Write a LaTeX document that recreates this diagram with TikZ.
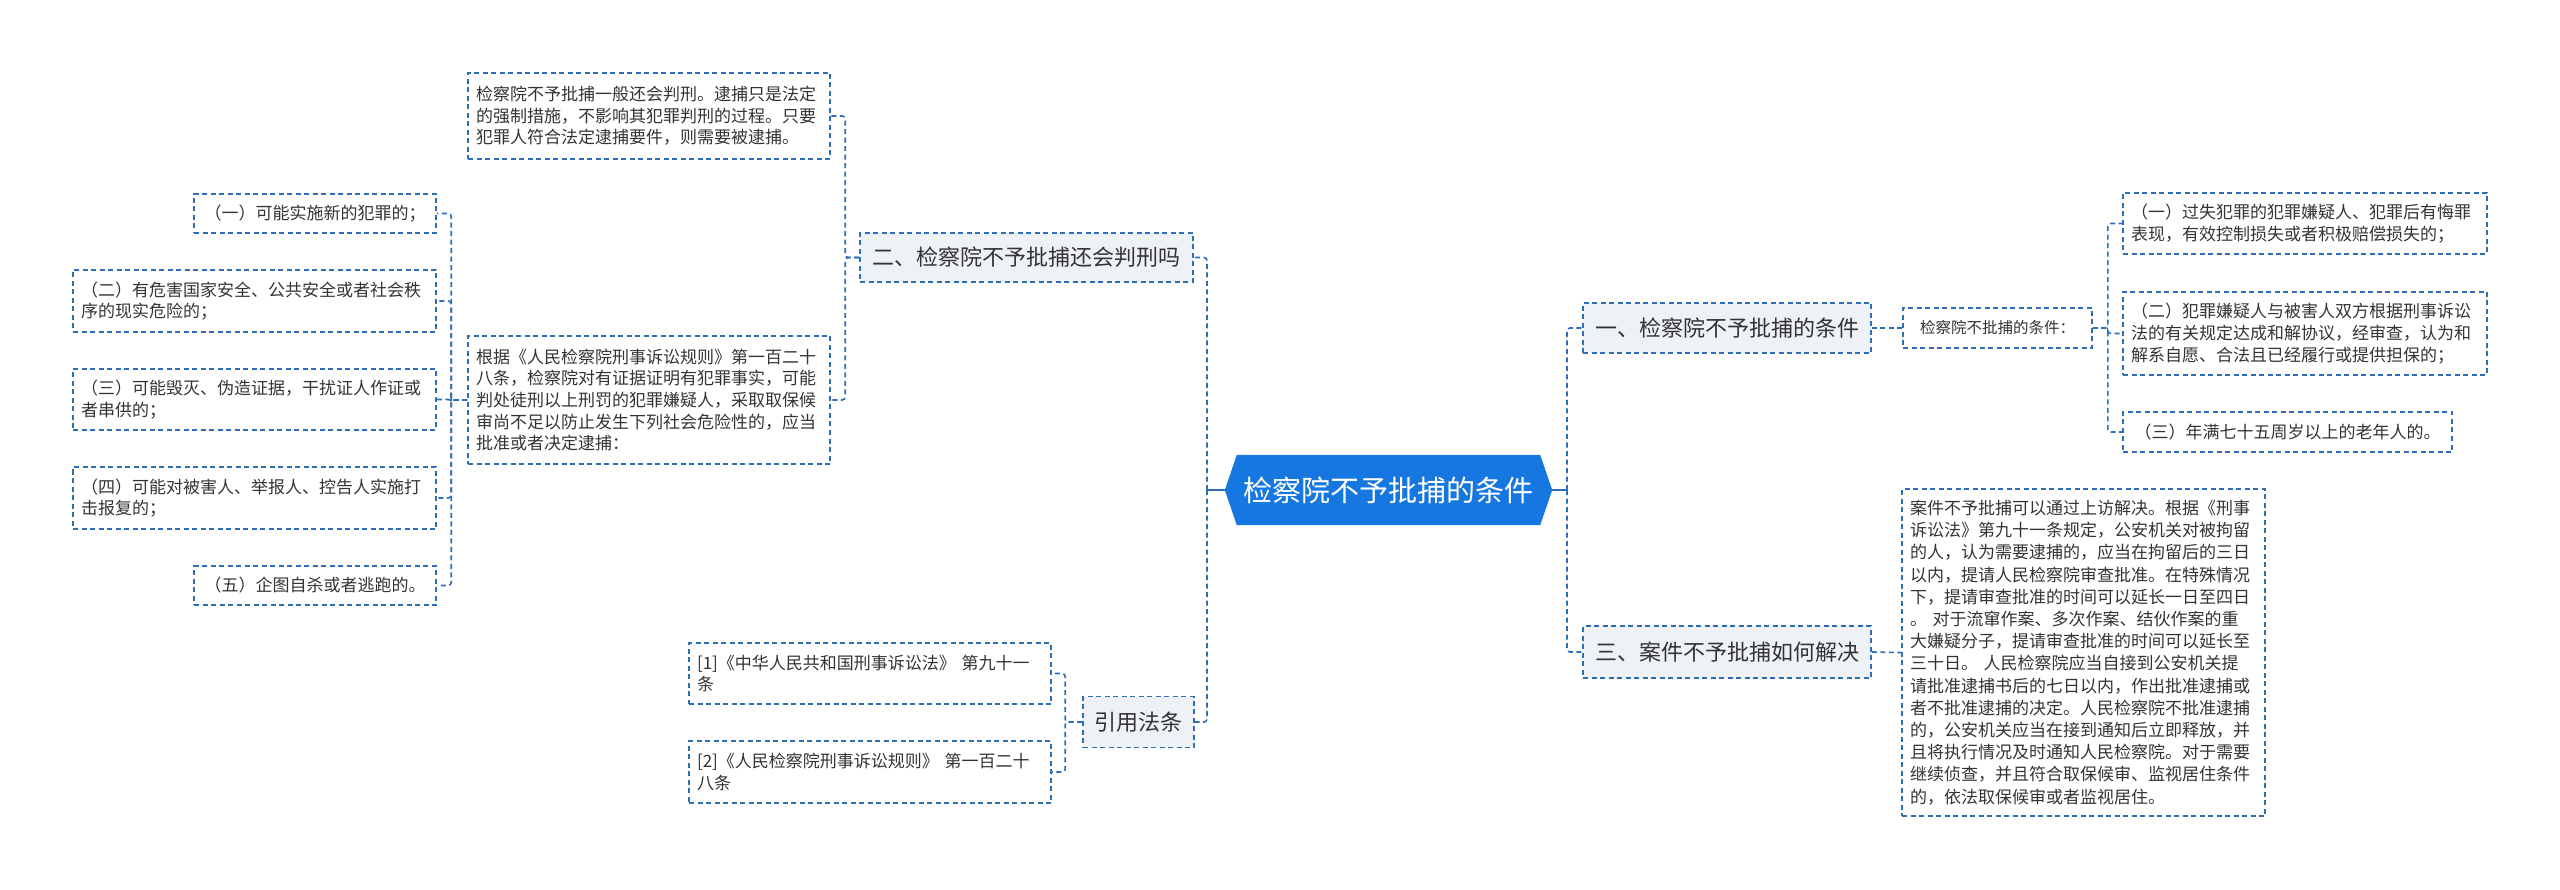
\documentclass[tikz,border=0pt]{standalone}
\usepackage{fontspec}
\setmainfont{Noto Sans CJK SC}
\usetikzlibrary{backgrounds}
\definecolor{rootblue}{HTML}{1677E0}
\definecolor{bordc}{HTML}{2E6FB7}
\definecolor{brfill}{HTML}{EEF1F6}
\definecolor{txt}{HTML}{333333}
\tikzset{
  box/.style={draw=bordc, dash pattern=on 5pt off 3.5pt, line width=1.6pt, text=txt, inner sep=0pt, font=\fontsize{17}{21.7}\selectfont},
  leaf/.style={box, align=left, inner xsep=8pt},
  cleaf/.style={box, align=center},
  branch/.style={box, fill=brfill, align=center, font=\fontsize{22}{26}\selectfont},
  conn/.style={draw=bordc, line width=1.6pt, dash pattern=on 5pt off 3.5pt, rounded corners=3pt},
  solidc/.style={draw=bordc, line width=1.8pt}
}
\begin{document}
\begin{tikzpicture}[x=1pt,y=-1pt]
\useasboundingbox (0,0) rectangle (2560,890);

% root
\node[font=\fontsize{29}{34}\selectfont, text=white, minimum width=327pt, minimum height=70pt, inner sep=0pt] (root) at (1388.5,490) {检察院不予批捕的条件};
\begin{pgfonlayer}{background}
\fill[rootblue] (root.west) -- ([xshift=12pt]root.north west) -- ([xshift=-12pt]root.north east) -- (root.east) -- ([xshift=-12pt]root.south east) -- ([xshift=12pt]root.south west) -- cycle;
\end{pgfonlayer}

% left branches
\node[branch, minimum width=333pt, minimum height=49pt] (b2) at (1026.5,257.5) {二、检察院不予批捕还会判刑吗};
\node[branch, minimum width=111pt, minimum height=51pt] (cite) at (1138.5,722) {引用法条};

\node[leaf, minimum width=362pt, minimum height=86pt, text width=346pt] (t1) at (649,116) {检察院不予批捕一般还会判刑。逮捕只是法定\\的强制措施，不影响其犯罪判刑的过程。只要\\犯罪人符合法定逮捕要件，则需要被逮捕。};
\node[leaf, minimum width=362pt, minimum height=128pt, text width=346pt] (t2) at (649,400) {根据《人民检察院刑事诉讼规则》第一百二十\\八条，检察院对有证据证明有犯罪事实，可能\\判处徒刑以上刑罚的犯罪嫌疑人，采取取保候\\审尚不足以防止发生下列社会危险性的，应当\\批准或者决定逮捕：};

\node[cleaf, minimum width=242pt, minimum height=39pt] (L1) at (315,213.5) {（一）可能实施新的犯罪的；};
\node[leaf, minimum width=363pt, minimum height=62pt, text width=347pt] (L2) at (254.5,301) {（二）有危害国家安全、公共安全或者社会秩\\序的现实危险的；};
\node[leaf, minimum width=363pt, minimum height=61pt, text width=347pt] (L3) at (254.5,399.5) {（三）可能毁灭、伪造证据，干扰证人作证或\\者串供的；};
\node[leaf, minimum width=363pt, minimum height=62pt, text width=347pt] (L4) at (254.5,498) {（四）可能对被害人、举报人、控告人实施打\\击报复的；};
\node[cleaf, minimum width=242pt, minimum height=39pt] (L5) at (315,585.5) {（五）企图自杀或者逃跑的。};

\node[leaf, minimum width=362pt, minimum height=61pt, text width=346pt] (R1) at (870,673.5) {[1]《中华人民共和国刑事诉讼法》 第九十一\\条};
\node[leaf, minimum width=362pt, minimum height=62pt, text width=346pt] (R2) at (870,772) {[2]《人民检察院刑事诉讼规则》 第一百二十\\八条};

% right branches
\node[branch, minimum width=288pt, minimum height=50pt] (b1) at (1727,328) {一、检察院不予批捕的条件};
\node[branch, minimum width=288pt, minimum height=52pt] (b3) at (1727,652) {三、案件不予批捕如何解决};

\node[cleaf, minimum width=189pt, minimum height=40pt, font=\fontsize{15.5}{19}\selectfont] (S) at (1997.5,328) {检察院不批捕的条件：};

\node[leaf, minimum width=364pt, minimum height=61pt, text width=348pt] (RI1) at (2305,223.5) {（一）过失犯罪的犯罪嫌疑人、犯罪后有悔罪\\表现，有效控制损失或者积极赔偿损失的；};
\node[leaf, minimum width=364pt, minimum height=83pt, text width=348pt] (RI2) at (2305,333.5) {（二）犯罪嫌疑人与被害人双方根据刑事诉讼\\法的有关规定达成和解协议，经审查，认为和\\解系自愿、合法且已经履行或提供担保的；};
\node[cleaf, minimum width=329pt, minimum height=40pt] (RI3) at (2287.5,432) {（三）年满七十五周岁以上的老年人的。};

\node[leaf, minimum width=363pt, minimum height=327pt, text width=347pt, font=\fontsize{17}{22.2}\selectfont] (big) at (2083.5,652.5) {案件不予批捕可以通过上访解决。根据《刑事\\诉讼法》第九十一条规定，公安机关对被拘留\\的人，认为需要逮捕的，应当在拘留后的三日\\以内，提请人民检察院审查批准。在特殊情况\\下，提请审查批准的时间可以延长一日至四日\\。 对于流窜作案、多次作案、结伙作案的重\\大嫌疑分子，提请审查批准的时间可以延长至\\三十日。 人民检察院应当自接到公安机关提\\请批准逮捕书后的七日以内，作出批准逮捕或\\者不批准逮捕的决定。人民检察院不批准逮捕\\的，公安机关应当在接到通知后立即释放，并\\且将执行情况及时通知人民检察院。对于需要\\继续侦查，并且符合取保候审、监视居住条件\\的，依法取保候审或者监视居住。};

% connectors
\coordinate (lt) at (1207,490);
\coordinate (rt) at (1567,490);
\draw[solidc] (root.west) -- (lt);
\draw[solidc] (root.east) -- (rt);
\draw[conn] (lt) |- (b2.east);
\draw[conn] (lt) |- (cite.east);
\draw[conn] (rt) |- (b1.west);
\draw[conn] (rt) |- (b3.west);

\draw[conn] (b2.west) -- ++(-14,0) |- (t1.east);
\draw[conn] (b2.west) -- ++(-14,0) |- (t2.east);
\foreach \n in {L1,L2,L3,L4,L5}{
  \draw[conn] (t2.west) -- ++(-16,0) |- (\n.east);
}
\draw[conn] (cite.west) -- ++(-17,0) |- (R1.east);
\draw[conn] (cite.west) -- ++(-17,0) |- (R2.east);

\draw[conn] (b1.east) -- (S.west);
\foreach \n in {RI1,RI2,RI3}{
  \draw[conn] (S.east) -- ++(15,0) |- (\n.west);
}
\draw[conn] (b3.east) -- (big.west);
\end{tikzpicture}
\end{document}
